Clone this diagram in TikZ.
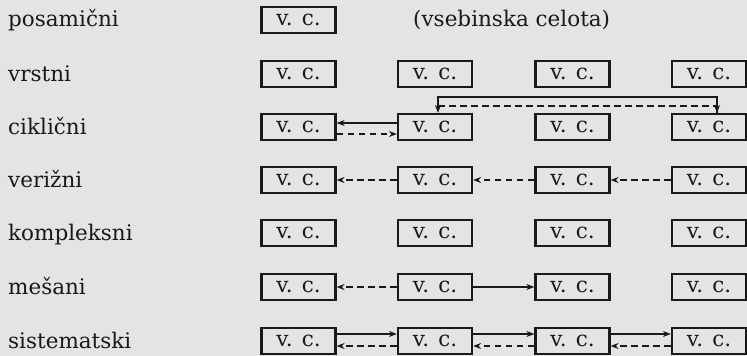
\documentclass[tikz,border=0pt]{standalone}
\usepackage{fontspec}
\setmainfont{DejaVu Serif}
\usetikzlibrary{arrows.meta,calc}
\definecolor{paper}{RGB}{228,228,226}
\definecolor{ink}{RGB}{25,25,25}
\begin{document}
\begin{tikzpicture}[x=1pt,y=-1pt,
 vc/.style={draw=ink,line width=2.2pt,minimum width=74pt,minimum height=26pt,inner sep=0pt,font=\fontsize{21.5}{24}\selectfont,text=ink},
 lbl/.style={anchor=base west,inner sep=0pt,font=\fontsize{21.5}{24}\selectfont,text=ink},
 sarr/.style={draw=ink,line width=1.6pt,-{Stealth[length=8pt,width=6pt]}},
 darr/.style={sarr,dash pattern=on 6.5pt off 4.5pt},
]
\fill[paper] (0,0) rectangle (747,356);
\useasboundingbox (0,0) rectangle (747,356);
% labels
\node[lbl] (l1) at (8,27) {posamični};
\node[lbl] (l2) at (8,81) {vrstni};
\node[lbl] (l3) at (8,134) {ciklični};
\node[lbl] (l4) at (8,187) {verižni};
\node[lbl] (l5) at (8,240) {kompleksni};
\node[lbl] (l6) at (8,294) {mešani};
\node[lbl] (l7) at (8,348) {sistematski};
\node[lbl] (note) at (413,27) {(vsebinska celota)};
% boxes
\node[vc] (c11) at (298.5,20) {v. c.};
\foreach \r/\y in {2/74,3/127,4/180,5/233,6/287,7/341}{
  \foreach \c/\x in {1/298.5,2/435,3/572.5,4/709}{
    \node[vc] (c\r\c) at (\x,\y) {v. c.};
  }
}
% ciklicni
\draw[sarr] ($(c32.west)+(0,-4)$) -- ($(c31.east)+(0,-4)$);
\draw[darr] ($(c31.east)+(0,7)$) -- ($(c32.west)+(0,7)$);
\draw[sarr] ($(c34.north)+(8,0)$) -- ++(0,-16) -| ($(c32.north)+(3,0)$);
\coordinate (dstart) at ($(c32.north)+(3,-7)$);
\draw[darr] (dstart) -| ($(c34.north)+(8,0)$);
% verizni
\draw[darr] (c42.west) -- (c41.east);
\draw[darr] (c43.west) -- (c42.east);
\draw[darr] (c44.west) -- (c43.east);
% mesani
\draw[darr] (c62.west) -- (c61.east);
\draw[sarr] (c62.east) -- (c63.west);
% sistematski
\draw[sarr] ($(c71.east)+(0,-7)$) -- ($(c72.west)+(0,-7)$);
\draw[sarr] ($(c72.east)+(0,-7)$) -- ($(c73.west)+(0,-7)$);
\draw[sarr] ($(c73.east)+(0,-7)$) -- ($(c74.west)+(0,-7)$);
\draw[darr] ($(c72.west)+(0,5)$) -- ($(c71.east)+(0,5)$);
\draw[darr] ($(c73.west)+(0,5)$) -- ($(c72.east)+(0,5)$);
\draw[darr] ($(c74.west)+(0,5)$) -- ($(c73.east)+(0,5)$);
\end{tikzpicture}
\end{document}
